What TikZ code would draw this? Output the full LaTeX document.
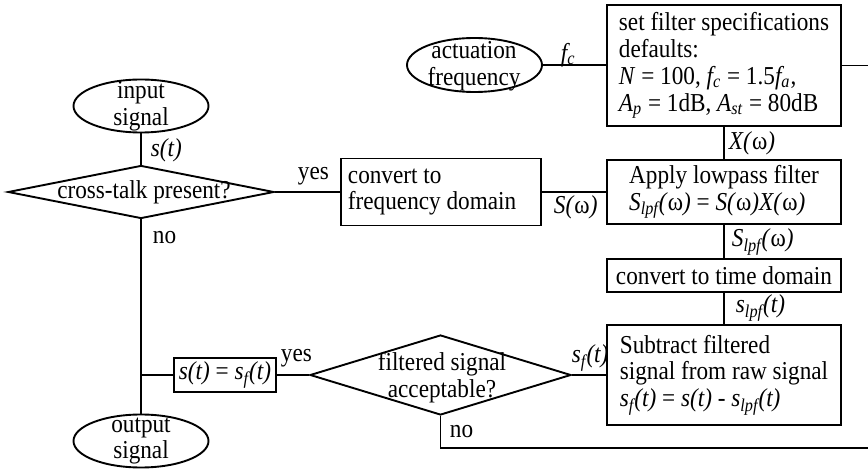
\documentclass[tikz,border=0pt]{standalone}
\usepackage{fontspec}
\setmainfont[FakeStretch=0.9]{Liberation Serif}
\usetikzlibrary{shapes.geometric}
\newcommand{\fsz}{\fontsize{12.9pt}{13.4pt}\selectfont}
\newcommand{\lo}[1]{\textsubscript{#1}}
\newcommand{\iv}[1]{\textit{#1}}
\begin{document}
\begin{tikzpicture}[x=0.5pt,y=-0.5pt,line width=0.95pt,
  box/.style={draw,inner sep=0pt,align=left,font=\fsz},
  oval/.style={draw,ellipse,inner sep=0pt},
  dia/.style={draw,diamond,inner sep=0pt},
  txt/.style={inner sep=0pt,font=\fsz,align=center},
  lbl/.style={inner sep=0pt,font=\fsz,anchor=west}]
\useasboundingbox (0,0) rectangle (868,470);
% terminals
\node[oval,minimum width=67.5pt,minimum height=26.5pt] (in) at (141,106) {};
\node[txt] (intxt) at (141,106) {input\\signal};
\node[oval,minimum width=67.5pt,minimum height=26.5pt] (out) at (141,441) {};
\node[txt] (outtxt) at (141,441) {output\\signal};
\node[oval,minimum width=67.5pt,minimum height=27pt] (af) at (474.5,65) {};
\node[txt] (aftxt) at (474,66) {actuation\\frequency};
% decisions
\node[dia,minimum width=133pt,minimum height=26.5pt] (d1) at (141,192) {};
\node[txt] (d1txt) at (144,192) {cross-talk present?};
\node[dia,minimum width=130.5pt,minimum height=40pt] (d2) at (440.5,375) {};
\node[txt] (d2txt) at (442,378) {filtered signal\\acceptable?};
% boxes
\node[box,minimum width=100pt,minimum height=33.5pt] (cf) at (441,192) {};
\node[txt,align=left,anchor=west] (cftxt) at (347,192) {convert to\\frequency domain};
\node[box,minimum width=117pt,minimum height=60.5pt] (sf) at (724,65.5)
  {set filter specifications\\defaults:\\\iv{N} = 100, \iv{f\lo{c}} = 1.5\iv{f\lo{a}},\\\iv{A\lo{p}} = 1dB, \iv{A\lo{st}} = 80dB};
\node[box,minimum width=117pt,minimum height=32pt] (ap) at (724,192)
  {Apply lowpass filter\\\iv{S\lo{lpf}(}ω\iv{)} = \iv{S(}ω\iv{)X(}ω\iv{)}};
\node[box,minimum width=117pt,minimum height=16.5pt] (ct) at (724,275.5) {convert to time domain};
\node[box,minimum width=117pt,minimum height=50pt] (sb) at (724,375)
  {Subtract filtered\\signal from raw signal\\\iv{s\lo{f}(t)} = \iv{s(t)} - \iv{s\lo{lpf}(t)}};
\node[box,minimum width=51pt,minimum height=17pt,align=center] (eq) at (225,375) {\iv{s(t)} = \iv{s\lo{f}(t)}};
% helper coordinates
\coordinate (j) at (141,375);
\coordinate (c1) at (874,448);
% connectors
\draw (in) -- (d1);
\draw (d1.south) -- (out.north);
\draw (d1.east) -- (cf.west);
\draw (ap.west) -- (cf.east);
\draw (af.east) -- (af.east -| sf.west);
\draw (sf.south) -- (ap.north);
\draw (ap.south) -- (ct.north);
\draw (ct.south) -- (sb.north);
\draw (sb.west) -- (d2.east);
\draw (d2.west) -- (eq.east);
\draw (eq.west) -- (j);
\draw (d2.south) |- (c1) |- (sf.east);
% labels
\node[lbl] (l1) at (150,150) {\iv{s(t)}};
\node[lbl] (l2) at (297,176) {yes};
\node[lbl] (l3) at (152,238) {no};
\node[lbl] (l4) at (553,207) {\iv{S(}ω\iv{)}};
\node[lbl] (l5) at (560,55) {\iv{f\lo{c}}};
\node[lbl] (l6) at (728,143) {\iv{X(}ω\iv{)}};
\node[lbl] (l7) at (731,242) {\iv{S\lo{lpf}(}ω\iv{)}};
\node[lbl] (l8) at (735,308) {\iv{s\lo{lpf}(t)}};
\node[lbl] (l9) at (571,358) {\iv{s\lo{f}(t)}};
\node[lbl] (l10) at (280,358) {yes};
\node[lbl] (l11) at (449,432) {no};
\end{tikzpicture}
\end{document}
